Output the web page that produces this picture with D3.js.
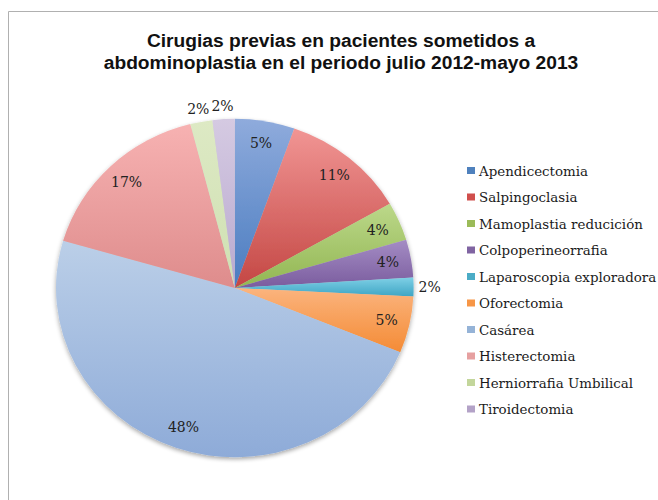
<!DOCTYPE html>
<html><head><meta charset="utf-8">
<script src="https://cdn.jsdelivr.net/npm/d3@7"></script>
<style>body{margin:0;background:#fff}svg{display:block}</style>
</head><body>
<svg id="c" width="658" height="500"></svg>
<script>
const categories = ["Apendicectomia","Salpingoclasia","Mamoplastia reducición","Colpoperineorrafia","Laparoscopia exploradora","Oforectomia","Casárea","Histerectomia","Herniorrafia Umbilical","Tiroidectomia"];
const values = [5.4, 11.3, 3.7, 3.6, 1.8, 5.4, 48.3, 16.5, 2.0, 2.0];
const outside = [false,false,false,false,true,false,false,false,true,true];
const colorsTop = ["#8fabdc","#f19594","#bcd88a","#a48cc4","#7fd0e6","#fbb47e","#bbcfe8","#f7b2b2","#dde9c4","#d5cae2"];
const colorsBottom = ["#4a7cc0","#c44744","#92b652","#7a5c9e","#3ea5c4","#f48b35","#8eabd8","#de8c8c","#cfe0b2","#b9a9cf"];
const legendColors = ["#4f81bd","#d04f4c","#9bbb59","#8064a2","#4bacc6","#f79646","#95b3d7","#e6a0a0","#c3d69b","#b3a2c7"];
const title = ["Cirugias previas en pacientes sometidos a","abdominoplastia en el periodo julio 2012-mayo 2013"];

const svg = d3.select("#c");
const defs = svg.append("defs");
// frame
svg.append("path").attr("d","M8.5,500 V11.5 H658").attr("fill","none").attr("stroke","#b0b0b0").attr("stroke-width",1);

// title
svg.append("g").selectAll("text").data(title).join("text")
  .attr("x",341).attr("y",(d,i)=>47+i*22)
  .attr("text-anchor","middle")
  .attr("font-family","'Liberation Sans', Arial, sans-serif")
  .attr("font-weight","bold").attr("font-size",19.2).attr("fill","#111")
  .text(d=>d);

// gradients
categories.forEach((c,i)=>{
  const g = defs.append("linearGradient").attr("id","g"+i).attr("x1",0).attr("y1",0).attr("x2",0).attr("y2",1);
  g.append("stop").attr("offset","0%").attr("stop-color",colorsTop[i]);
  g.append("stop").attr("offset","100%").attr("stop-color",colorsBottom[i]);
});
const f = defs.append("filter").attr("id","sh").attr("x","-20%").attr("y","-20%").attr("width","140%").attr("height","140%");
f.append("feGaussianBlur").attr("in","SourceAlpha").attr("stdDeviation",2.5).attr("result","b");
f.append("feOffset").attr("in","b").attr("dy",2.5).attr("result","o");
f.append("feComponentTransfer").attr("in","o").attr("result","o2").append("feFuncA").attr("type","linear").attr("slope",0.35);
const m = f.append("feMerge"); m.append("feMergeNode").attr("in","o2"); m.append("feMergeNode").attr("in","SourceGraphic");

const cx = 234.8, cy = 288, R = 178.8, sy = 169.2/178.8;
const pie = d3.pie().sort(null).value(d=>d)(values);
const arc = d3.arc().innerRadius(0).outerRadius(R);
const g = svg.append("g").attr("transform",`translate(${cx},${cy}) scale(1,${sy})`);
const pg = g.append("g").attr("filter","url(#sh)");
pg.selectAll("path").data(pie).join("path").attr("d",arc).attr("fill",(d,i)=>`url(#g${i})`);

// labels
const labIn = d3.arc().innerRadius(R*0.87).outerRadius(R*0.87);
const labOut = d3.arc().innerRadius(R*1.09).outerRadius(R*1.09);
svg.append("g").selectAll("text").data(pie).join("text")
  .attr("x",(d,i)=>cx+(outside[i]?labOut:labIn).centroid(d)[0])
  .attr("y",(d,i)=>cy+(outside[i]?labOut:labIn).centroid(d)[1]*sy+(outside[i]&&i>5?2:0))
  .attr("dy","0.35em").attr("text-anchor","middle")
  .attr("font-family","'DejaVu Serif', serif").attr("font-size",14).attr("fill","#222")
  .text(d=>Math.round(d.value)+"%");

// legend
const lg = svg.append("g").attr("transform","translate(467,171)");
const row = lg.selectAll("g").data(categories).join("g").attr("transform",(d,i)=>`translate(0,${i*26.5})`);
row.append("rect").attr("x",0).attr("y",-4).attr("width",8).attr("height",7).attr("fill",(d,i)=>legendColors[i]);
row.append("text").attr("x",12).attr("y",0).attr("dy","0.35em")
  .attr("font-family","'DejaVu Serif', serif").attr("font-size",13.4).attr("fill","#1a1a1a").text(d=>d);
</script>
</body></html>
